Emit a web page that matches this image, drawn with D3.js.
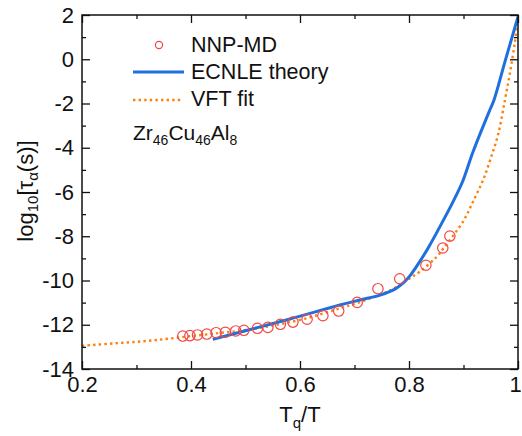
<!DOCTYPE html>
<html><head><meta charset="utf-8">
<script src="https://cdn.jsdelivr.net/npm/d3@7/dist/d3.min.js"></script>
<style>body{margin:0;background:#fff}svg{display:block}text{font-family:"Liberation Sans",Arial,sans-serif;fill:#111}</style>
</head><body><svg id="c" width="522" height="436"></svg>
<script>
// NNP-MD data (Tg/T, log10 tau)
const mdX = [0.385,0.398,0.412,0.429,0.446,0.463,0.482,0.497,0.522,0.541,0.564,0.587,0.613,0.642,0.671,0.705,0.743,0.783,0.831,0.862,0.875];
const mdY = [-12.51,-12.49,-12.46,-12.42,-12.36,-12.34,-12.28,-12.25,-12.16,-12.12,-11.98,-11.88,-11.75,-11.59,-11.38,-10.99,-10.37,-9.92,-9.31,-8.53,-7.99];
// ECNLE theory curve
const ecX = [0.44,0.50,0.58,0.673,0.71,0.747,0.775,0.79,0.802,0.817,0.837,0.869,0.883,0.898,0.918,0.949,0.956,0.977,1.0];
const ecY = [-12.66,-12.27,-11.75,-11.11,-10.88,-10.66,-10.38,-10.1,-9.78,-9.25,-8.45,-7.0,-6.33,-5.55,-4.15,-2.25,-1.84,-0.03,1.92];
// VFT fit curve
const vfX = [0.20,0.26,0.32,0.38,0.45,0.50,0.55,0.61,0.67,0.70,0.735,0.765,0.795,0.82,0.85,0.863,0.90,0.92,0.936,0.949,0.964,0.976,0.985,0.994,1.0];
const vfY = [-12.95,-12.84,-12.73,-12.57,-12.38,-12.24,-12.04,-11.72,-11.28,-11.06,-10.75,-10.45,-10.0,-9.6,-8.95,-8.55,-7.3,-6.3,-5.46,-4.55,-3.35,-1.84,-0.64,0.72,1.8];
const xTicks = [0.2,0.4,0.6,0.8,1.0];
const xTickLabels = ["0.2","0.4","0.6","0.8","1"];
const xMinor = [0.3,0.5,0.7,0.9];
const yTicks = [2,0,-2,-4,-6,-8,-10,-12,-14];
const yMinor = [1,-1,-3,-5,-7,-9,-11,-13];
const legendLabels = ["NNP-MD","ECNLE theory","VFT fit"];

const svg = d3.select("#c");
const L=82,R=518,T=15,B=369;
const x = d3.scaleLinear().domain([0.2,1]).range([L,R]);
const y = d3.scaleLinear().domain([-14,2]).range([B,T]);
const blue="#1f6fde", orange="#ff7f0e", red="#f04848";

svg.append("clipPath").attr("id","cp").append("rect").attr("x",L).attr("y",T).attr("width",R-L).attr("height",B-T);
const g = svg.append("g").attr("clip-path","url(#cp)");

const line = d3.line().curve(d3.curveCatmullRom.alpha(0.5));
g.append("path").attr("d",line(vfX.map((v,i)=>[x(v),y(vfY[i])])))
 .attr("fill","none").attr("stroke",orange).attr("stroke-width",2.4).attr("stroke-dasharray","2.4,3.2");
g.append("path").attr("d",line(ecX.map((v,i)=>[x(v),y(ecY[i])])))
 .attr("fill","none").attr("stroke",blue).attr("stroke-width",3);
g.selectAll("circle.md").data(mdX).join("circle").attr("class","md")
 .attr("cx",d=>x(d)).attr("cy",(d,i)=>y(mdY[i])).attr("r",5.2)
 .attr("fill","none").attr("stroke",red).attr("stroke-width",1.2);

function style(sel){sel.select(".domain").remove();sel.selectAll("line").attr("stroke","#111").attr("stroke-width",1.3);sel.selectAll("text").attr("font-size",22).attr("fill","#111");}
const fmtX = d=>xTickLabels[xTicks.indexOf(d)];
const xb = svg.append("g").attr("transform",`translate(0,${B})`).call(d3.axisBottom(x).tickValues(xTicks).tickFormat(fmtX).tickSize(-8).tickPadding(7)).call(style);
xb.selectAll("text").filter(d=>d===1).attr("dx",-3);
svg.append("g").attr("transform",`translate(0,${B})`).call(d3.axisBottom(x).tickValues(xMinor).tickFormat("").tickSize(-4)).call(style);
svg.append("g").attr("transform",`translate(0,${T})`).call(d3.axisTop(x).tickValues(xTicks).tickFormat("").tickSize(-8)).call(style);
svg.append("g").attr("transform",`translate(0,${T})`).call(d3.axisTop(x).tickValues(xMinor).tickFormat("").tickSize(-4)).call(style);
svg.append("g").attr("transform",`translate(${L},0)`).call(d3.axisLeft(y).tickValues(yTicks).tickFormat(d3.format("d")).tickSize(-8).tickPadding(8)).call(style);
svg.append("g").attr("transform",`translate(${L},0)`).call(d3.axisLeft(y).tickValues(yMinor).tickFormat("").tickSize(-4)).call(style);
svg.append("g").attr("transform",`translate(${R},0)`).call(d3.axisRight(y).tickValues(yTicks).tickFormat("").tickSize(-8)).call(style);
svg.append("g").attr("transform",`translate(${R},0)`).call(d3.axisRight(y).tickValues(yMinor).tickFormat("").tickSize(-4)).call(style);
svg.selectAll("text").each(function(){const t=d3.select(this);t.text(t.text().replace("\u2212","-"));});

svg.append("rect").attr("x",L).attr("y",T).attr("width",R-L).attr("height",B-T).attr("fill","none").attr("stroke","#111").attr("stroke-width",1.5);

// axis titles
const xt = svg.append("text").attr("x",300).attr("y",422).attr("text-anchor","middle").attr("font-size",22);
xt.append("tspan").text("T");
xt.append("tspan").attr("font-size",15).attr("dy",6).text("q");
xt.append("tspan").attr("dy",-6).text("/T");
const yt = svg.append("text").attr("transform","translate(33,191) rotate(-90)").attr("text-anchor","middle").attr("font-size",22);
yt.append("tspan").text("log");
yt.append("tspan").attr("font-size",15).attr("dy",5).text("10");
yt.append("tspan").attr("dy",-5).text("[\u03c4");
yt.append("tspan").attr("font-size",15).attr("dy",5).text("\u03b1");
yt.append("tspan").attr("dy",-5).text("(s)]");

// legend
svg.append("circle").attr("cx",159).attr("cy",45).attr("r",3.6).attr("fill","none").attr("stroke",red).attr("stroke-width",1.2);
svg.append("line").attr("x1",133).attr("x2",184).attr("y1",72).attr("y2",72).attr("stroke",blue).attr("stroke-width",3);
svg.append("line").attr("x1",133).attr("x2",181).attr("y1",100).attr("y2",100).attr("stroke",orange).attr("stroke-width",2.4).attr("stroke-dasharray","2.4,3.2");
[52,79,106].forEach((yy,i)=>svg.append("text").attr("x",191).attr("y",yy).attr("font-size",21.5).text(legendLabels[i]));
const zt = svg.append("text").attr("x",133).attr("y",140).attr("font-size",21);
zt.append("tspan").text("Zr");
zt.append("tspan").attr("font-size",14).attr("dy",5).text("46");
zt.append("tspan").attr("dy",-5).text("Cu");
zt.append("tspan").attr("font-size",14).attr("dy",5).text("46");
zt.append("tspan").attr("dy",-5).text("Al");
zt.append("tspan").attr("font-size",14).attr("dy",5).text("8");
</script></body></html>
